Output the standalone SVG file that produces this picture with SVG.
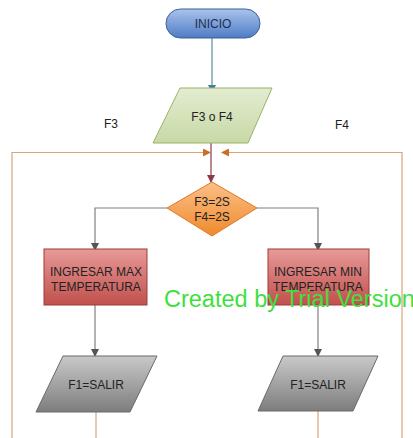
<svg xmlns="http://www.w3.org/2000/svg" width="413" height="438" viewBox="0 0 413 438">
  <defs>
    <linearGradient id="gBlue" x1="0" y1="0" x2="0" y2="1">
      <stop offset="0" stop-color="#a9c3ec"/>
      <stop offset="1" stop-color="#4f7cc4"/>
    </linearGradient>
    <linearGradient id="gGreen" x1="0" y1="0" x2="0" y2="1">
      <stop offset="0" stop-color="#e3ecd0"/>
      <stop offset="1" stop-color="#c8d9a6"/>
    </linearGradient>
    <linearGradient id="gOrange" x1="0" y1="0" x2="0" y2="1">
      <stop offset="0" stop-color="#fbc088"/>
      <stop offset="1" stop-color="#ef8a2c"/>
    </linearGradient>
    <linearGradient id="gRed" x1="0" y1="0" x2="0" y2="1">
      <stop offset="0" stop-color="#e79a98"/>
      <stop offset="1" stop-color="#c0504d"/>
    </linearGradient>
    <linearGradient id="gGray" x1="0" y1="0" x2="0" y2="1">
      <stop offset="0" stop-color="#c9c9c9"/>
      <stop offset="1" stop-color="#7d7d7d"/>
    </linearGradient>
    <marker id="aTeal" markerWidth="8" markerHeight="8" refX="7" refY="4" orient="auto" markerUnits="userSpaceOnUse">
      <path d="M0,0 L8,4 L0,8 Z" fill="#3f7fa0"/>
    </marker>
    <marker id="aRed" markerWidth="8" markerHeight="8" refX="7" refY="4" orient="auto" markerUnits="userSpaceOnUse">
      <path d="M0,0 L8,4 L0,8 Z" fill="#8b3a4a"/>
    </marker>
    <marker id="aOrange" markerWidth="8" markerHeight="8" refX="7" refY="4" orient="auto" markerUnits="userSpaceOnUse">
      <path d="M0,0 L8,4 L0,8 Z" fill="#c8702a"/>
    </marker>
    <marker id="aGray" markerWidth="8" markerHeight="8" refX="7" refY="4" orient="auto" markerUnits="userSpaceOnUse">
      <path d="M0,0 L8,4 L0,8 Z" fill="#555"/>
    </marker>
  </defs>
  <style>
    text { font-family: "Liberation Sans", Arial, sans-serif; fill: #222; text-anchor: middle; }
    .lbl { font-size: 12px; }
    .box { font-size: 12px; }
    .con { fill: none; stroke-width: 1.2; }
    .teal { stroke: #5a8ca6; }
    .red { stroke: #8b3a4a; }
    .orange { stroke: #d9a57a; }
    .gray { stroke: #808080; }
  </style>

  <rect width="413" height="438" fill="#ffffff"/>

  <!-- connectors -->
  <g id="connectors">
    <path class="con teal" d="M212,38 V92" marker-end="url(#aTeal)"/>
    <path class="con red" d="M211,143 V182" marker-end="url(#aRed)"/>
    <path class="con orange" d="M12,438 V152.5 H210" marker-end="url(#aOrange)"/>
    <path class="con orange" d="M402,438 V152.5 H222" marker-end="url(#aOrange)"/>
    <path class="con gray" d="M167,208 H95 V250" marker-end="url(#aGray)"/>
    <path class="con gray" d="M257,208 H318 V250" marker-end="url(#aGray)"/>
    <path class="con gray" d="M95,305 V356" marker-end="url(#aGray)"/>
    <path class="con gray" d="M318,305 V356" marker-end="url(#aGray)"/>
    <path class="con orange" d="M96,412 V438"/>
    <path class="con orange" d="M318,411 V438"/>
  </g>

  <!-- branch labels -->
  <text class="lbl" x="111" y="128">F3</text>
  <text class="lbl" x="342" y="129">F4</text>

  <g id="inicio">
    <rect x="166" y="9" width="94" height="29" rx="14.5" fill="url(#gBlue)" stroke="#3d5f96" stroke-width="1"/>
    <text class="box" x="213" y="28" style="fill:#1f2f4f">INICIO</text>
  </g>

  <g id="entrada">
    <polygon points="180,88 272,88 248,143 153,143" fill="url(#gGreen)" stroke="#9bb36b" stroke-width="1"/>
    <text class="lbl" x="212" y="121">F3 o F4</text>
  </g>

  <g id="decision">
    <polygon points="212,182 257,208 212,236 167,208" fill="url(#gOrange)" stroke="#e0782a" stroke-width="1"/>
    <text class="box" x="212" y="206">F3=2S</text>
    <text class="box" x="212" y="221">F4=2S</text>
  </g>

  <g id="ingresar-max">
    <rect x="44" y="249" width="103" height="56" fill="url(#gRed)" stroke="#9c3c3a" stroke-width="1"/>
    <text class="box" x="96" y="276">INGRESAR MAX</text>
    <text class="box" x="96" y="291">TEMPERATURA</text>
  </g>

  <g id="ingresar-min">
    <rect x="268" y="249" width="101" height="56" fill="url(#gRed)" stroke="#9c3c3a" stroke-width="1"/>
    <text class="box" x="318" y="276">INGRESAR MIN</text>
    <text class="box" x="318" y="291">TEMPERATURA</text>
  </g>

  <g id="salir-izq">
    <polygon points="63,356 157,356 130,412 36,412" fill="url(#gGray)" stroke="#6a6a6a" stroke-width="1"/>
    <text class="box" x="96" y="389">F1=SALIR</text>
  </g>

  <g id="salir-der">
    <polygon points="283,356 378,356 353,411 258,411" fill="url(#gGray)" stroke="#6a6a6a" stroke-width="1"/>
    <text class="box" x="318" y="389">F1=SALIR</text>
  </g>

  <text x="164" y="307" style="font-size:23.5px;fill:#3ee03e;text-anchor:start">Created by Trial Version</text>
</svg>
